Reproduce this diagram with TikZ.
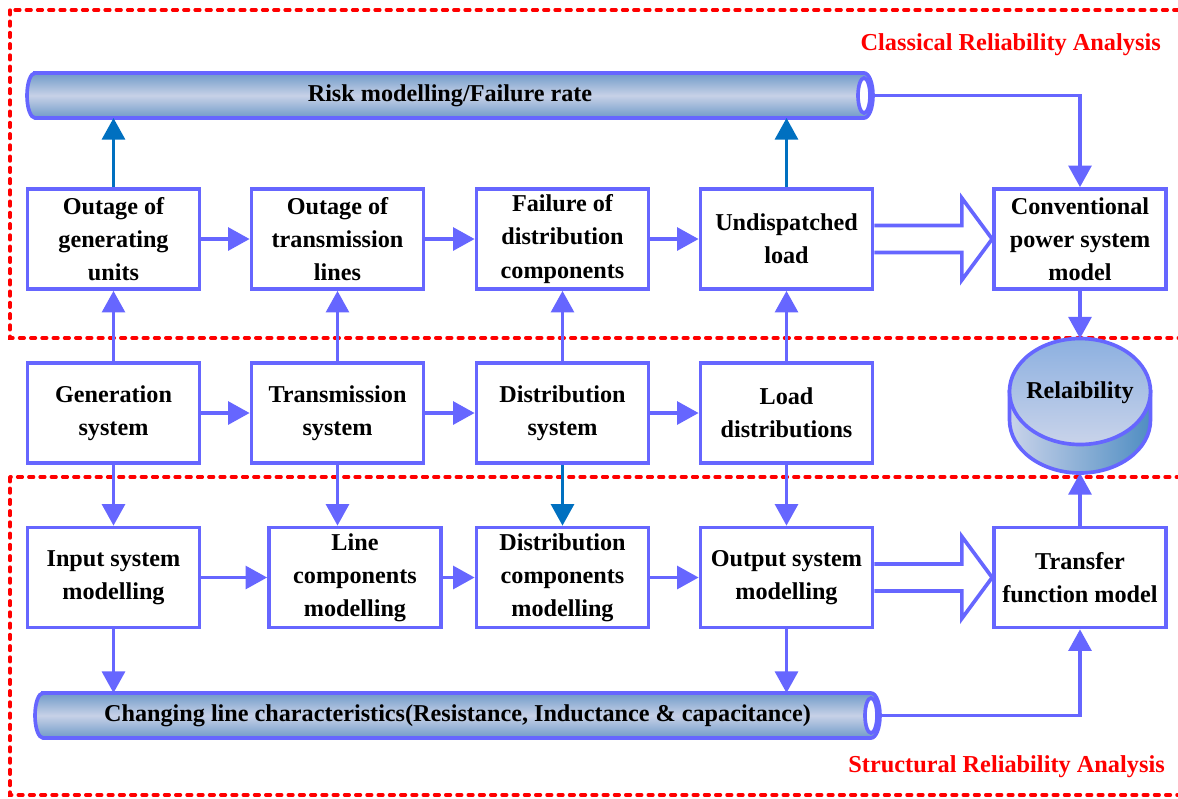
\documentclass[tikz,border=0pt]{standalone}
\usepackage{fontspec}
\setmainfont{Liberation Serif}
\usepackage{tikz}
\usetikzlibrary{positioning, arrows.meta, calc}
\definecolor{boxline}{HTML}{6666FF}
\definecolor{darkflow}{HTML}{0070C0}
\definecolor{zonered}{HTML}{FF0000}
\definecolor{pipeedge}{HTML}{6F9AC8}
\definecolor{pipemid}{HTML}{C7D1E7}
\definecolor{drumtop}{HTML}{8CB0E0}
\definecolor{drumlow}{HTML}{C9D3EA}
\definecolor{drumside}{HTML}{4F8DC2}
\tikzset{
  sysblock/.style={
    draw=boxline,
    line width=2.6pt,
    fill=white,
    minimum width=4.3cm,
    minimum height=2.5cm,
    align=center,
    font=\fontsize{17.2}{23.6}\selectfont\bfseries,
    inner sep=2pt
  },
  flow/.style={
    -{Triangle[length=0.54cm, width=0.57cm]},
    line width=2.6pt,
    draw=boxline,
    color=boxline
  },
  dark flow/.style={flow, draw=darkflow, color=darkflow},
  bigarrow/.style={draw=boxline, line width=2.6pt, line join=miter},
  pipe/.style={
    draw=boxline, line width=2.6pt,
    top color=pipeedge, bottom color=pipeedge, middle color=pipemid
  },
  pipetext/.style={font=\fontsize{17.2}{23.6}\selectfont\bfseries, inner sep=0pt},
  drum/.style={draw=boxline, line width=2.6pt},
  zone/.style={draw=zonered, line width=2.4pt, dash pattern=on 3.4pt off 4.6pt, line cap=round},
  zonelabel/.style={text=zonered, font=\fontsize{17.3}{20}\selectfont\bfseries, inner sep=0pt}
}
\begin{document}
\begin{tikzpicture}[x=0.025cm, y=-0.025cm]
  \useasboundingbox (0,0) rectangle (1178,798);

  % Analysis zones
  \draw[zone] (10,10) rectangle (1200,338);
  \draw[zone] (10,477) rectangle (1200,795);
  \node[zonelabel, anchor=east] (classlab) at (1161,45) {Classical Reliability Analysis};
  \node[zonelabel, anchor=east] (structlab) at (1165,767) {Structural Reliability Analysis};

  % Risk pipe
  \draw[pipe] (35,73) -- (864,73) arc[start angle=-90, end angle=90, x radius=9, y radius=22.5]
    -- (35,118) arc[start angle=90, end angle=270, x radius=8, y radius=22.5] -- cycle;
  \draw[drum, fill=white] (864,95.5) ellipse[x radius=6, y radius=17.5];
  \node[pipetext] (riskpipe) at (450,95.5) {Risk modelling/Failure rate};
  \coordinate (riskend) at (873,95.5);
  \coordinate (riskbot) at (450,118);

  % Line pipe
  \draw[pipe] (43,693) -- (871,693) arc[start angle=-90, end angle=90, x radius=9, y radius=22.5]
    -- (43,738) arc[start angle=90, end angle=270, x radius=8, y radius=22.5] -- cycle;
  \draw[drum, fill=white] (871,715.5) ellipse[x radius=6, y radius=17.5];
  \node[pipetext] (linepipe) at (457.5,715.5) {Changing line characteristics(Resistance, Inductance \& capacitance)};
  \coordinate (lineend) at (880,715.5);
  \coordinate (linetop) at (457,693);

  % Reliability drum
  \draw[drum, left color=drumlow, right color=drumside] (1009.5,391.5) -- (1009.5,420)
    arc[start angle=180, end angle=0, x radius=70.5, y radius=53] -- (1150.5,391.5) -- cycle;
  \draw[drum, top color=drumtop, bottom color=drumlow] (1080,391.5) ellipse[x radius=70.5, y radius=53];
  \node[pipetext] (relab) at (1080,392.5) {Relaibility};
  \coordinate (drumtopc) at (1080,338.5);
  \coordinate (drumbotc) at (1080,473);

  % Classical row
  \node[sysblock] (outgen) at (113.5,239) {Outage of\\generating\\units};
  \node[sysblock] (outtrans) at (337.5,239) {Outage of\\transmission\\lines};
  \node[sysblock] (faildist) at (562.5,239) {Failure of\\distribution\\components};
  \node[sysblock] (undisp) at (786.5,239) {Undispatched\\load};
  \node[sysblock] (conv) at (1080,239) {Conventional\\power system\\model};

  % System row
  \node[sysblock] (gensys) at (113.5,413) {Generation\\system};
  \node[sysblock] (transsys) at (337.5,413) {Transmission\\system};
  \node[sysblock] (distsys) at (562.5,413) {Distribution\\system};
  \node[sysblock] (loaddist) at (786.5,413) {Load\\distributions};

  % Structural row
  \node[sysblock] (inputmod) at (113.5,577.5) {Input system\\modelling};
  \node[sysblock] (linemod) at (355,577.5) {Line\\components\\modelling};
  \node[sysblock] (distmod) at (562.5,577.5) {Distribution\\components\\modelling};
  \node[sysblock] (outputmod) at (786.5,577.5) {Output system\\modelling};
  \node[sysblock] (transfer) at (1080,577.5) {Transfer\\function model};

  % Horizontal flows
  \draw[flow] (outgen) -- (outtrans);
  \draw[flow] (outtrans) -- (faildist);
  \draw[flow] (faildist) -- (undisp);
  \draw[flow] (gensys) -- (transsys);
  \draw[flow] (transsys) -- (distsys);
  \draw[flow] (distsys) -- (loaddist);
  \draw[flow] (inputmod) -- (linemod);
  \draw[flow] (linemod) -- (distmod);
  \draw[flow] (distmod) -- (outputmod);

  % Vertical flows
  \draw[flow] (gensys) -- (outgen);
  \draw[flow] (transsys) -- (outtrans);
  \draw[flow] (distsys) -- (faildist);
  \draw[flow] (loaddist) -- (undisp);
  \draw[flow] (gensys) -- (inputmod);
  \draw[flow] (transsys.south) -- (transsys.south |- linemod.north);
  \draw[dark flow] (distsys) -- (distmod);
  \draw[flow] (loaddist) -- (outputmod);
  \draw[dark flow] (outgen.north) -- (outgen.north |- riskbot);
  \draw[dark flow] (undisp.north) -- (undisp.north |- riskbot);
  \draw[flow] (inputmod.south) -- (inputmod.south |- linetop);
  \draw[flow] (outputmod.south) -- (outputmod.south |- linetop);

  % Pipe and drum links
  \draw[flow] (riskend) -| (conv.north);
  \draw[flow] (lineend) -| (transfer.south);
  \draw[flow] (conv.south) -- (drumtopc);
  \draw[flow] (transfer.north) -- (drumbotc);

  % Block arrows
  \draw[bigarrow] ($(undisp.east)+(0,-13.5)$) -- ++(87.5,0) -- ++(0,-27.5) -- (conv.west)
    -- ($(undisp.east)+(87.5,41)$) -- ++(0,-27.5) -- ($(undisp.east)+(0,13.5)$);
  \draw[bigarrow] ($(outputmod.east)+(0,-13.5)$) -- ++(87.5,0) -- ++(0,-27.5) -- (transfer.west)
    -- ($(outputmod.east)+(87.5,41)$) -- ++(0,-27.5) -- ($(outputmod.east)+(0,13.5)$);
\end{tikzpicture}
\end{document}
